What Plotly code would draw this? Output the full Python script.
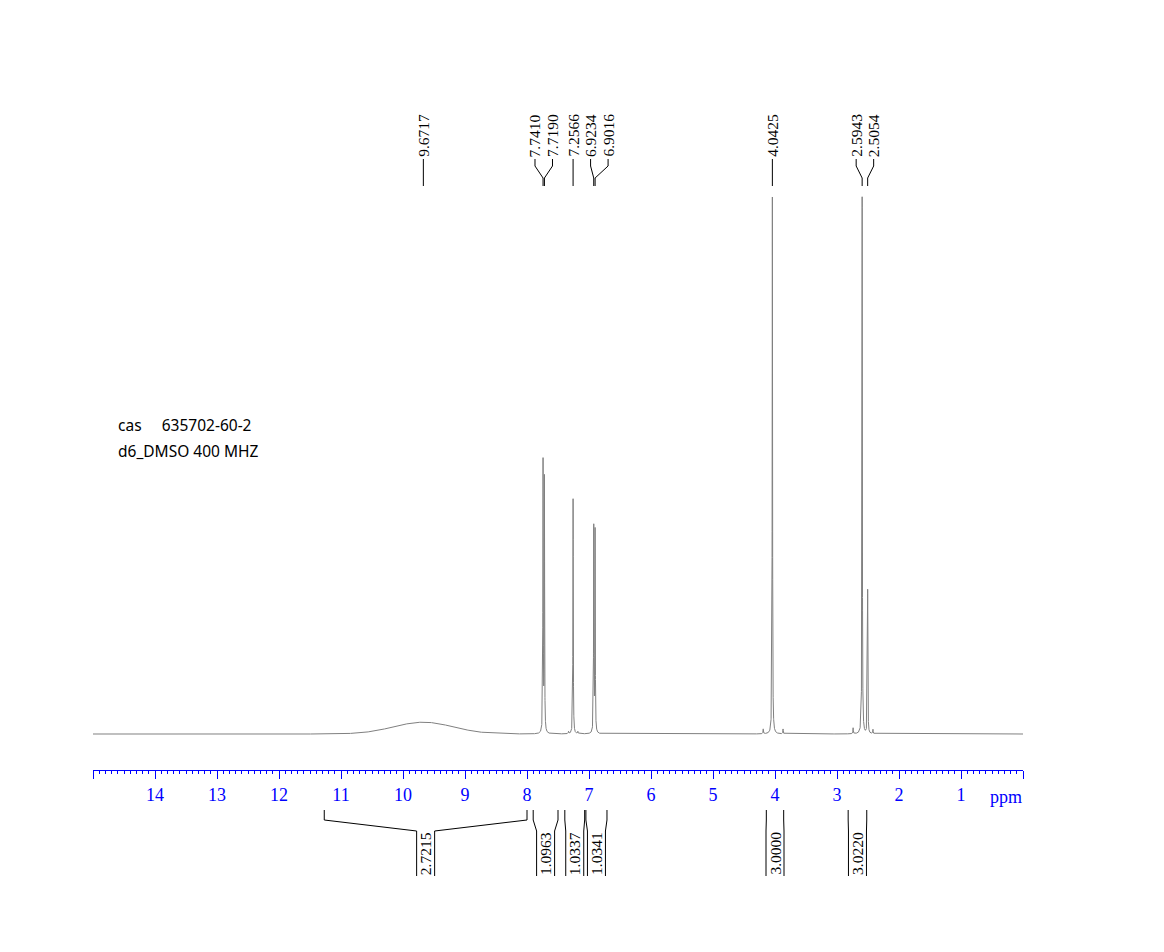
import numpy as np
import plotly.graph_objects as go

# ---------------- data ----------------
peak_ppm    = [7.7410, 7.7190, 7.2566, 6.9234, 6.9016, 4.0425, 2.5943, 2.5054,
               4.19, 3.87, 2.74, 2.42, 7.33, 7.18]
peak_height = [0.503, 0.471, 0.438, 0.382, 0.375, 1.000, 1.000, 0.268,
               0.009, 0.009, 0.011, 0.008, 0.004, 0.004]
peak_hwhm   = [0.0035, 0.0035, 0.0035, 0.0035, 0.0035, 0.0035, 0.0035, 0.0035,
               0.004, 0.004, 0.004, 0.004, 0.004, 0.004]
broad_ppm, broad_height, broad_sigma = 9.6717, 0.022, 0.48

label_groups = [["9.6717"], ["7.7410", "7.7190"], ["7.2566"], ["6.9234", "6.9016"],
                ["4.0425"], ["2.5943", "2.5054"]]

integral_from   = [11.27, 7.90, 7.39, 7.05, 4.14, 2.82]
integral_to     = [8.00, 7.50, 7.07, 6.71, 3.86, 2.52]
integral_labels = ["2.7215", "1.0963", "1.0337", "1.0341", "3.0000", "3.0220"]

major_ticks = list(range(0, 16))
tick_text = [str(v) if 1 <= v <= 14 else "" for v in major_ticks]

# ---------------- geometry helpers (pixels of the page) ----------------
W, H = 1164, 952
L, R, T, B = 93, 1023, 100, 770          # plot-area pixel box
X0, X1 = 15.0, 0.0
PXPPM = (R - L) / (X0 - X1)


def ppm_to_px(p):
    return L + (X0 - p) * PXPPM


def paper_x(x):
    return (x - L) / (R - L)


def paper_y(y):
    return (B - y) / (B - T)


# y scaling: baseline at pixel 734, tallest peak at 197
Y_BASE_PX, Y_TOP_PX = 734, 197
unit = Y_BASE_PX - Y_TOP_PX
y_lo = -(B - Y_BASE_PX) / unit
y_hi = (Y_BASE_PX - T) / unit

# ---------------- spectrum from peak list ----------------
grid = [np.arange(0.0, 15.0001, 0.005)]
for p in peak_ppm:
    grid.append(np.arange(p - 0.12, p + 0.12, 0.0005))
    grid.append(np.array([p]))
xs = np.unique(np.concatenate(grid))
xs = xs[(xs >= 0) & (xs <= 15)]
ys = np.zeros_like(xs)
for p, h, w in zip(peak_ppm, peak_height, peak_hwhm):
    ys += h / (1 + ((xs - p) / w) ** 2)
ys += broad_height * np.exp(-0.5 * ((xs - broad_ppm) / broad_sigma) ** 2)

fig = go.Figure()
fig.add_trace(go.Scatter(x=xs, y=ys, mode="lines",
                         line=dict(color="#808080", width=1),
                         hoverinfo="skip", showlegend=False))

annotations = []
shapes = []
SERIF = "Liberation Serif, Times New Roman, serif"

# ---------------- peak labels on top ----------------
SPACING = 17.5
label_x = []
peak_x = []
for grp in label_groups:
    pos = [ppm_to_px(float(t)) for t in grp]
    c = sum(pos) / len(pos)
    n = len(grp)
    lx = [c + (i - (n - 1) / 2) * SPACING for i in range(n)]
    label_x.append(lx)
    peak_x.append(pos)
flat_l = [v for g in label_x for v in g]
flat_p = [v for g in peak_x for v in g]
flat_t = [t for g in label_groups for t in g]
for i in range(1, len(flat_l)):
    if flat_l[i] - flat_l[i - 1] < SPACING:
        flat_l[i] += SPACING - (flat_l[i] - flat_l[i - 1])

for t, lx, px in zip(flat_t, flat_l, flat_p):
    annotations.append(dict(text=t, x=paper_x(lx), y=paper_y(158), xref="paper", yref="paper",
                            xanchor="center", yanchor="bottom", textangle=-90,
                            showarrow=False, borderpad=0,
                            font=dict(family=SERIF, size=15.5, color="black")))
    path = (f"M {paper_x(lx)},{paper_y(159)} L {paper_x(lx)},{paper_y(166)} "
            f"L {paper_x(px)},{paper_y(178)} L {paper_x(px)},{paper_y(186)}")
    shapes.append(dict(type="path", path=path, xref="paper", yref="paper",
                       line=dict(color="black", width=1)))

# ---------------- integrals below the axis ----------------
HALF = 9.0
for a, b, lab in zip(integral_from, integral_to, integral_labels):
    ax, bx = ppm_to_px(a), ppm_to_px(b)
    c = (ax + bx) / 2
    for edge, inner in ((ax, c - HALF), (bx, c + HALF)):
        path = (f"M {paper_x(edge)},{paper_y(810)} L {paper_x(edge)},{paper_y(820)} "
                f"L {paper_x(inner)},{paper_y(831)} L {paper_x(inner)},{paper_y(876)}")
        shapes.append(dict(type="path", path=path, xref="paper", yref="paper",
                           line=dict(color="black", width=1)))
    annotations.append(dict(text=lab, x=paper_x(c), y=paper_y(876), xref="paper", yref="paper",
                            xanchor="center", yanchor="bottom", textangle=-90,
                            showarrow=False, borderpad=0,
                            font=dict(family=SERIF, size=15.5, color="black")))

# ---------------- other texts ----------------
annotations.append(dict(text="ppm", x=paper_x(1006), y=paper_y(797), xref="paper", yref="paper",
                        xanchor="center", yanchor="middle", showarrow=False,
                        font=dict(family=SERIF, size=18, color="blue")))
annotations.append(dict(text="cas\u00a0\u00a0\u00a0\u00a0\u00a0635702-60-2",
                        x=paper_x(116), y=paper_y(425), xref="paper", yref="paper",
                        xanchor="left", yanchor="middle", showarrow=False,
                        font=dict(family="Noto Sans, sans-serif", size=15.5, color="black")))
annotations.append(dict(text="d6_DMSO 400 MHZ",
                        x=paper_x(116), y=paper_y(451), xref="paper", yref="paper",
                        xanchor="left", yanchor="middle", showarrow=False,
                        font=dict(family="Noto Sans, sans-serif", size=15.5, color="black")))

fig.update_layout(
    width=W, height=H,
    margin=dict(l=L, r=W - R, t=T, b=H - B, pad=0),
    paper_bgcolor="white", plot_bgcolor="white",
    showlegend=False,
    xaxis=dict(range=[X0, X1], showgrid=False, zeroline=False,
               showline=True, linecolor="blue", linewidth=1,
               ticks="outside", ticklen=8, tickwidth=1, tickcolor="blue",
               tickvals=major_ticks, ticktext=tick_text,
               tickfont=dict(family=SERIF, size=18, color="blue"),
               minor=dict(dtick=0.1, tick0=0, ticks="outside", ticklen=3,
                          tickcolor="blue", tickwidth=1, showgrid=False)),
    yaxis=dict(range=[y_lo, y_hi], visible=False, fixedrange=True),
    annotations=annotations,
    shapes=shapes,
)

fig.write_html("out.html")
